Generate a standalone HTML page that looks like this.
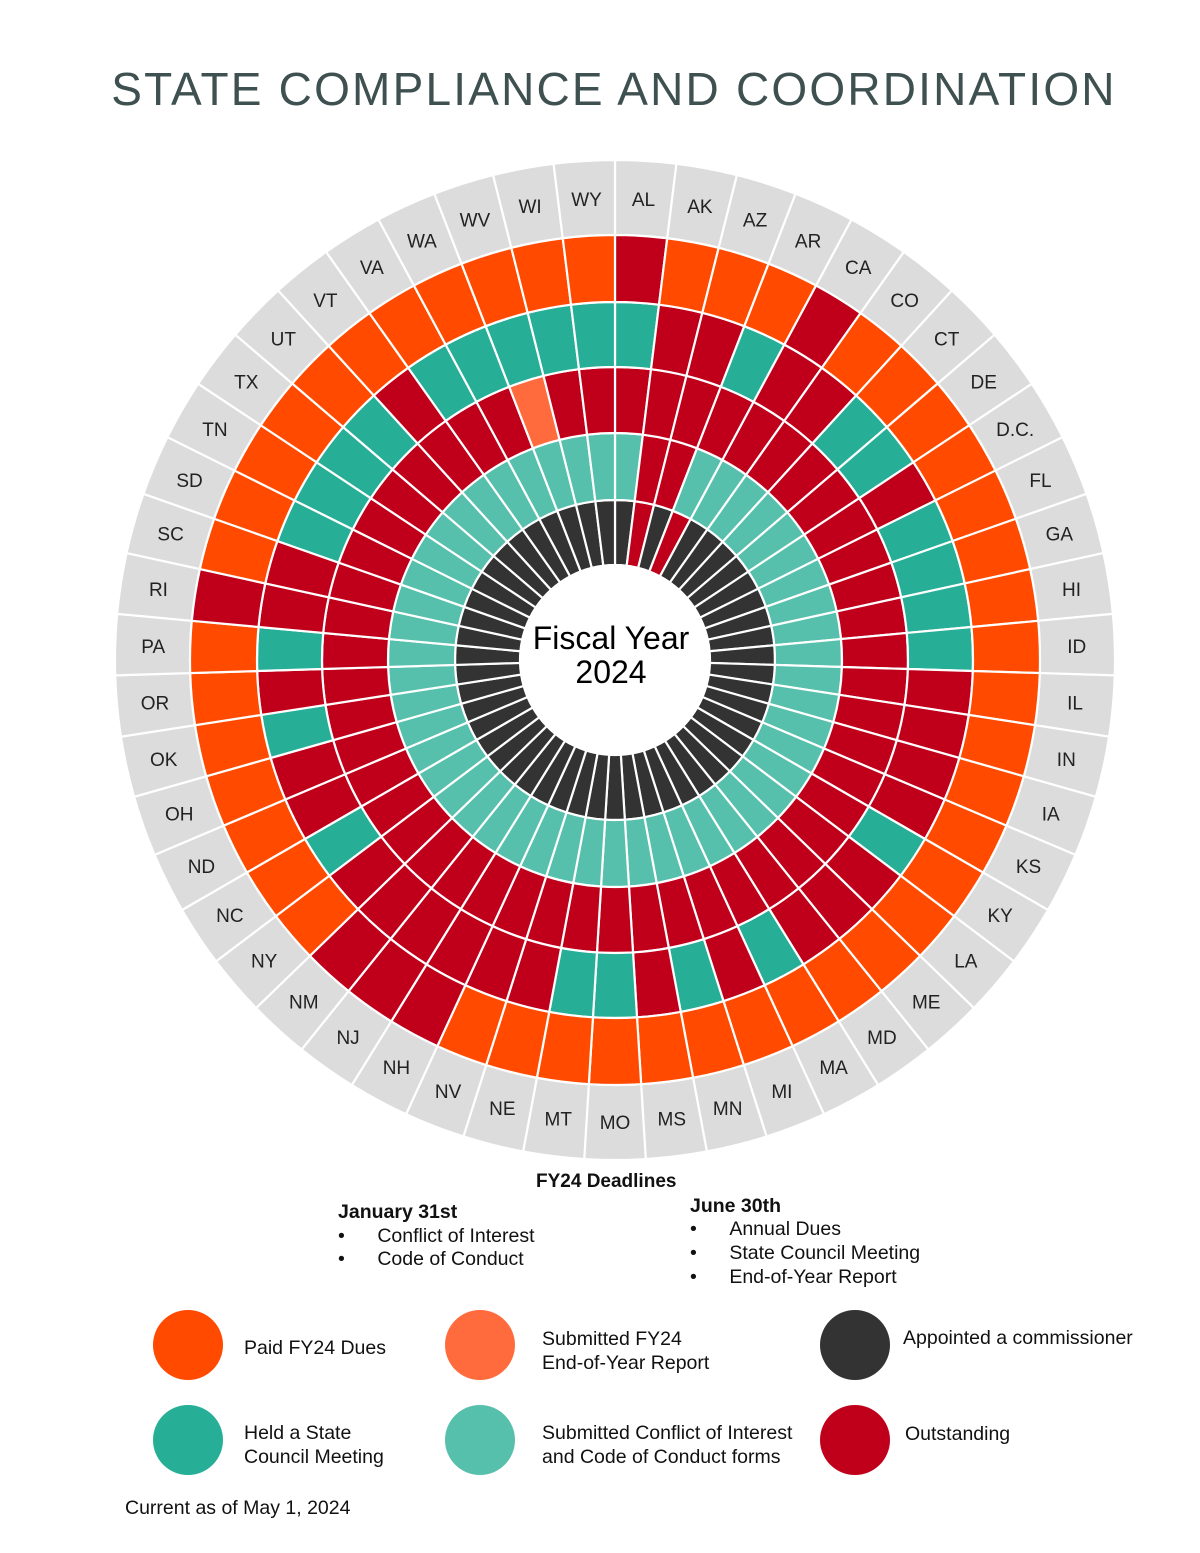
<!DOCTYPE html>
<html><head><meta charset="utf-8">
<style>
html,body{margin:0;padding:0;background:#fff;}
body{width:1200px;height:1553px;position:relative;overflow:hidden;font-family:"Liberation Sans",sans-serif;}
.t{position:absolute;white-space:nowrap;color:#111;font-size:19.5px;}
.b{font-weight:bold;}
.dot{position:absolute;width:70px;height:70px;border-radius:50%;}
</style></head>
<body>
<div class="t" style="left:0;width:1228px;text-align:center;top:62px;font-size:46px;letter-spacing:2.2px;color:#3e5150;">STATE COMPLIANCE AND COORDINATION</div>
<svg id="chart" width="1200" height="1160" style="position:absolute;left:0;top:0;"></svg>

<div class="t b" style="left:536px;top:1171px;font-size:19px;">FY24 Deadlines</div>
<div class="t b" style="left:338px;top:1201px;">January 31st</div>
<div class="t" style="left:338px;top:1225px;">•&nbsp;&nbsp;&nbsp;&nbsp;&nbsp;&nbsp;Conflict of Interest</div>
<div class="t" style="left:338px;top:1248px;">•&nbsp;&nbsp;&nbsp;&nbsp;&nbsp;&nbsp;Code of Conduct</div>
<div class="t b" style="left:690px;top:1195px;">June 30th</div>
<div class="t" style="left:690px;top:1218px;">•&nbsp;&nbsp;&nbsp;&nbsp;&nbsp;&nbsp;Annual Dues</div>
<div class="t" style="left:690px;top:1242px;">•&nbsp;&nbsp;&nbsp;&nbsp;&nbsp;&nbsp;State Council Meeting</div>
<div class="t" style="left:690px;top:1266px;">•&nbsp;&nbsp;&nbsp;&nbsp;&nbsp;&nbsp;End-of-Year Report</div>

<div class="dot" style="left:153px;top:1310px;background:#ff4a00;"></div>
<div class="t" style="left:244px;top:1337px;">Paid FY24 Dues</div>
<div class="dot" style="left:445px;top:1310px;background:#ff6b3d;"></div>
<div class="t" style="left:542px;top:1327px;line-height:24px;">Submitted FY24<br>End-of-Year Report</div>
<div class="dot" style="left:820px;top:1310px;background:#333;"></div>
<div class="t" style="left:903px;top:1327px;">Appointed a commissioner</div>
<div class="dot" style="left:153px;top:1405px;background:#26ae97;"></div>
<div class="t" style="left:244px;top:1421px;line-height:24px;">Held a State<br>Council Meeting</div>
<div class="dot" style="left:445px;top:1405px;background:#56c0ac;"></div>
<div class="t" style="left:542px;top:1421px;line-height:24px;">Submitted Conflict of Interest<br>and Code of Conduct forms</div>
<div class="dot" style="left:820px;top:1405px;background:#c0001a;"></div>
<div class="t" style="left:905px;top:1423px;">Outstanding</div>
<div class="t" style="left:125px;top:1497px;">Current as of May 1, 2024</div>

<script>
const states = ["AL","AK","AZ","AR","CA","CO","CT","DE","D.C.","FL","GA","HI","ID","IL","IN","IA","KS","KY","LA","ME","MD","MA","MI","MN","MS","MO","MT","NE","NV","NH","NJ","NM","NY","NC","ND","OH","OK","OR","PA","RI","SC","SD","TN","TX","UT","VT","VA","WA","WV","WI","WY"];
// 1 = done, 0 = outstanding
const dues        = [0,1,1,1,0,1,1,1,1,1,1,1,1,1,1,1,1,1,1,1,1,1,1,1,1,1,1,1,1,0,0,0,1,1,1,1,1,1,1,0,1,1,1,1,1,1,1,1,1,1,1];
const council     = [1,0,0,1,0,0,1,1,0,1,1,1,1,0,0,0,0,1,0,0,0,1,0,1,0,1,1,0,0,0,0,0,0,1,0,0,1,0,1,0,0,1,1,1,1,0,1,1,1,1,1];
const report      = [0,0,0,0,0,0,0,0,0,0,0,0,0,0,0,0,0,0,0,0,0,0,0,0,0,0,0,0,0,0,0,0,0,0,0,0,0,0,0,0,0,0,0,0,0,0,0,0,1,0,0];
const coi         = [1,0,0,1,1,1,1,1,1,1,1,1,1,1,1,1,1,1,1,1,1,1,1,1,1,1,1,1,1,1,1,1,1,1,1,1,1,1,1,1,1,1,1,1,1,1,1,1,1,1,1];
const commissioner= [1,0,1,0,1,1,1,1,1,1,1,1,1,1,1,1,1,1,1,1,1,1,1,1,1,1,1,1,1,1,1,1,1,1,1,1,1,1,1,1,1,1,1,1,1,1,1,1,1,1,1];

const CX=615, CY=660, RED="#c0001a";
const rings=[
  {name:"commissioner",data:commissioner,r0:95,r1:160,on:"#333333"},
  {name:"coi",data:coi,r0:160,r1:227,on:"#56c0ac"},
  {name:"report",data:report,r0:227,r1:293,on:"#ff6b3d"},
  {name:"council",data:council,r0:293,r1:358,on:"#26ae97"},
  {name:"dues",data:dues,r0:358,r1:425,on:"#ff4a00"}
];
const svg=document.getElementById('chart');
const NS="http://www.w3.org/2000/svg";
const step=360/states.length;
function pt(r,a){const t=a*Math.PI/180;return [CX+r*Math.sin(t),CY-r*Math.cos(t)];}
function wedge(r0,r1,a0,a1){
  const p1=pt(r1,a0),p2=pt(r1,a1),p3=pt(r0,a1),p4=pt(r0,a0);
  return `M${p1[0]},${p1[1]}A${r1},${r1} 0 0 1 ${p2[0]},${p2[1]}L${p3[0]},${p3[1]}A${r0},${r0} 0 0 0 ${p4[0]},${p4[1]}Z`;
}
states.forEach((s,i)=>{
  const a0=i*step,a1=(i+1)*step;
  const g=document.createElementNS(NS,'path');
  g.setAttribute('d',wedge(425,500,a0,a1));
  g.setAttribute('fill','#dcdcdc');g.setAttribute('stroke','#fff');g.setAttribute('stroke-width','2.2');
  
  
  svg.appendChild(g);
  const p=pt(462,(a0+a1)/2);
  const t=document.createElementNS(NS,'text');
  t.setAttribute('x',p[0]);t.setAttribute('y',p[1]+7);
  t.setAttribute('text-anchor','middle');t.setAttribute('font-size','19');
  t.setAttribute('font-family','Liberation Sans, sans-serif');t.setAttribute('fill','#222');
  t.textContent=s;
  
  
  svg.appendChild(t);
  rings.forEach(rg=>{
    const w=document.createElementNS(NS,'path');
    w.setAttribute('d',wedge(rg.r0,rg.r1,a0,a1));
    w.setAttribute('fill',rg.data[i]?rg.on:RED);
    w.setAttribute('stroke','#fff');w.setAttribute('stroke-width','2.2');
    
    
    svg.appendChild(w);
  });
});
const c1=document.createElementNS(NS,'text');
c1.setAttribute('x',CX-4);c1.setAttribute('y',649);c1.setAttribute('text-anchor','middle');
c1.setAttribute('font-size','32');c1.setAttribute('font-family','Liberation Sans, sans-serif');c1.textContent='Fiscal Year';


svg.appendChild(c1);
const c2=document.createElementNS(NS,'text');
c2.setAttribute('x',CX-4);c2.setAttribute('y',683);c2.setAttribute('text-anchor','middle');
c2.setAttribute('font-size','32');c2.setAttribute('font-family','Liberation Sans, sans-serif');c2.textContent='2024';


svg.appendChild(c2);
</script>
</body></html>
